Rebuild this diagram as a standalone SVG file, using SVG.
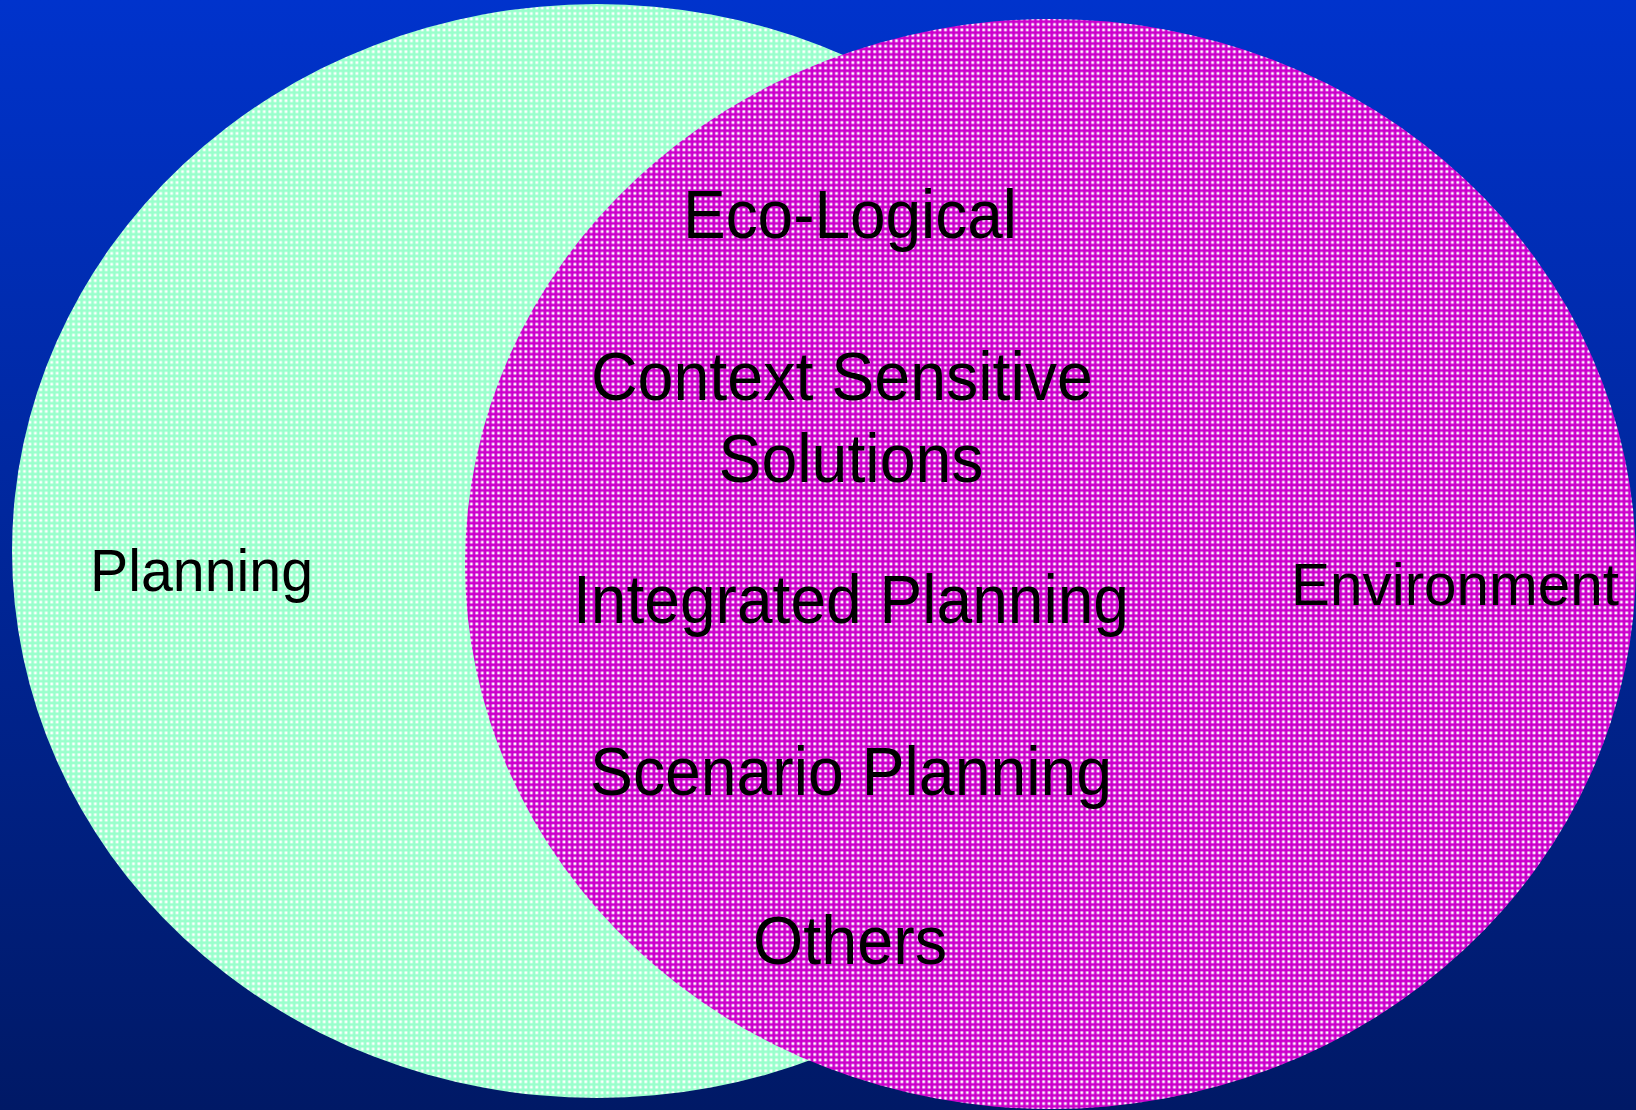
<svg xmlns="http://www.w3.org/2000/svg" width="1636" height="1110" viewBox="0 0 1636 1110">
<defs>
<linearGradient id="bg" x1="0" y1="0" x2="0" y2="1">
<stop offset="0" stop-color="#0033CC"/>
<stop offset="1" stop-color="#001966"/>
</linearGradient>
<pattern id="mintPat" patternUnits="userSpaceOnUse" width="5.45" height="5.45">
<rect width="5.45" height="5.45" fill="#99FFCC"/>
<rect x="1.3" y="1.3" width="2.7" height="2.7" fill="#FFFFFF"/>
</pattern>
<pattern id="magPat" patternUnits="userSpaceOnUse" width="5.45" height="5.45">
<rect width="5.45" height="5.45" fill="#CC00CC"/>
<rect x="1.3" y="1.3" width="2.7" height="2.7" fill="#FFFFFF"/>
</pattern>
</defs>
<style>
text { font-family: "Liberation Sans", Arial, sans-serif; fill: #000000; }
.c { font-size: 68px; text-anchor: middle; }
.s { font-size: 59px; }
</style>
<rect x="0" y="0" width="1636" height="1110" fill="url(#bg)"/>
<g id="planning">
<ellipse cx="597" cy="551" rx="585" ry="547" fill="url(#mintPat)"/>
<text class="s" x="90" y="591" textLength="223" lengthAdjust="spacingAndGlyphs">Planning</text>
</g>
<g id="environment">
<ellipse cx="1050.5" cy="564" rx="585.5" ry="545" fill="url(#magPat)"/>
<text class="s" x="1291" y="605" textLength="328" lengthAdjust="spacingAndGlyphs">Environment</text>
</g>
<g id="overlap-items">
<text class="c" x="850" y="238" textLength="334" lengthAdjust="spacingAndGlyphs">Eco-Logical</text>
<text class="c" x="842" y="400" textLength="502" lengthAdjust="spacingAndGlyphs">Context Sensitive</text>
<text class="c" x="851" y="482" textLength="265" lengthAdjust="spacingAndGlyphs">Solutions</text>
<text class="c" x="851" y="623" textLength="556" lengthAdjust="spacingAndGlyphs">Integrated Planning</text>
<text class="c" x="851" y="795" textLength="522" lengthAdjust="spacingAndGlyphs">Scenario Planning</text>
<text class="c" x="850" y="964" textLength="194" lengthAdjust="spacingAndGlyphs">Others</text>
</g>
<g id="connectors"/>
</svg>
